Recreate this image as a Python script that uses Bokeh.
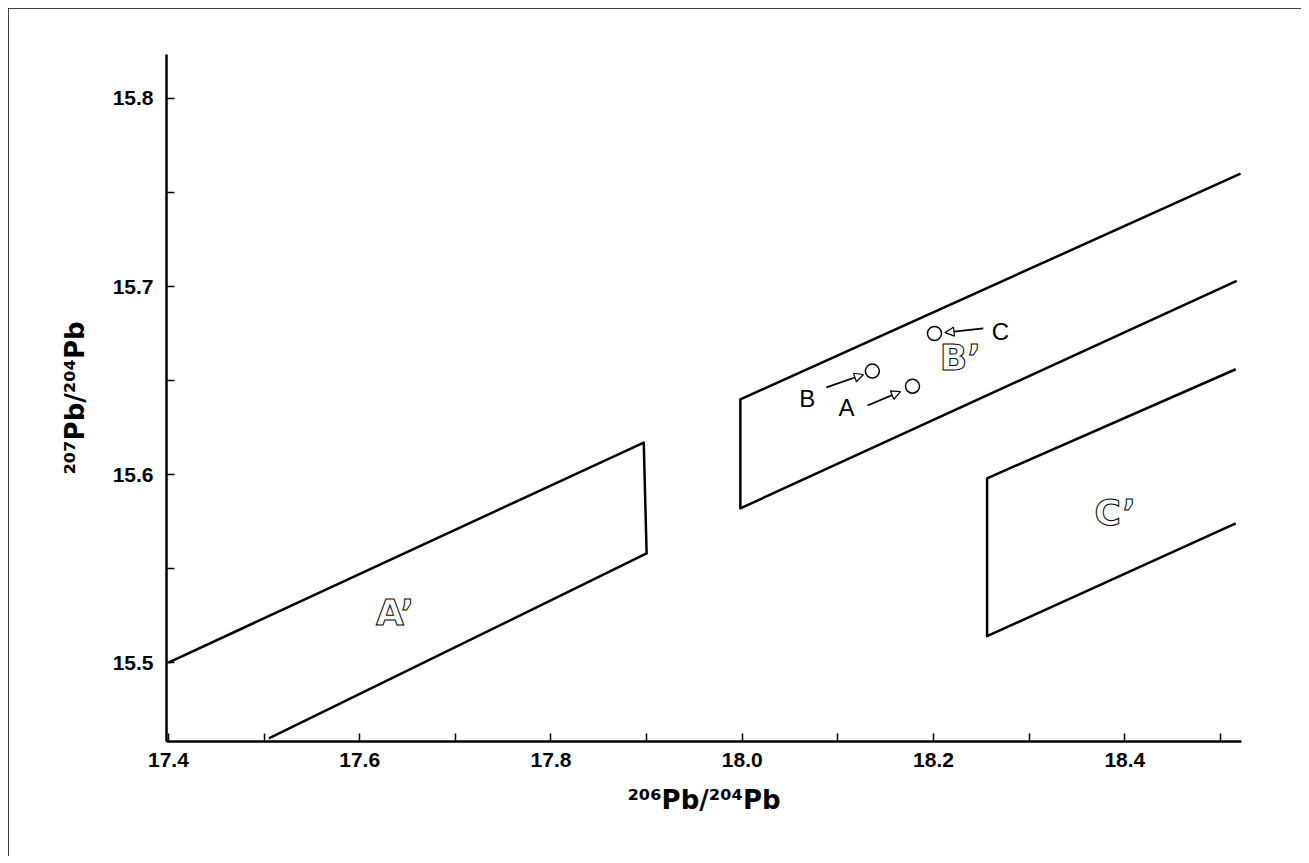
from bokeh.plotting import figure
from bokeh.models import Range1d, FixedTicker, Arrow, NormalHead, PrintfTickFormatter
from bokeh.core.properties import value
from bokeh.embed import file_html
from bokeh.resources import INLINE

# Axis ticks
x_major = [17.4, 17.6, 17.8, 18.0, 18.2, 18.4]
x_minor = [17.5, 17.7, 17.9, 18.1, 18.3, 18.5]
y_major = [15.5, 15.6, 15.7, 15.8]
y_minor = [15.55, 15.65, 15.75]

# Field outlines (polylines)
a_field_x = [17.400, 17.897, 17.900, 17.505]
a_field_y = [15.500, 15.617, 15.558, 15.4597]
b_field_x = [18.521, 17.998, 17.998, 18.517]
b_field_y = [15.760, 15.640, 15.582, 15.703]
c_field_x = [18.516, 18.256, 18.256, 18.516]
c_field_y = [15.656, 15.598, 15.514, 15.574]

# Sample points
pt_x = [18.178, 18.136, 18.201]   # A, B, C
pt_y = [15.647, 15.655, 15.675]

# Arrows (tail -> head)
arr_x0 = [18.131, 18.088, 18.252]
arr_y0 = [15.6367, 15.6463, 15.6777]
arr_x1 = [18.1654, 18.1267, 18.212]
arr_y1 = [15.6441, 15.6532, 15.6755]

# Point labels
lab_text = ["A", "B", "C"]
lab_x = [18.109, 18.068, 18.270]
lab_y = [15.6356, 15.6404, 15.676]

# Field labels
field_text = ["A\u2019", "B\u2019", "C\u2019"]
field_x = [17.637, 18.228, 18.390]
field_y = [15.5266, 15.6622, 15.5798]

p = figure(width=1293, height=848,
           x_range=Range1d(17.398, 18.522), y_range=Range1d(15.458, 15.8234),
           output_backend="svg", toolbar_location=None,
           min_border_left=158, min_border_right=60,
           min_border_top=46, min_border_bottom=115)
p.styles = {"margin": "8px", "outline": "2px solid black", "outline-offset": "-2px"}
p.grid.visible = False
p.outline_line_color = None
p.background_fill_color = "white"
p.border_fill_color = "white"

for ax in (p.xaxis[0], p.yaxis[0]):
    ax.axis_line_width = 2.5
    ax.axis_line_color = "black"
    ax.major_tick_in = 8
    ax.major_tick_out = 0
    ax.minor_tick_in = 8
    ax.minor_tick_out = 0
    ax.major_tick_line_width = 1.5
    ax.minor_tick_line_width = 1.5
    ax.major_tick_line_color = "black"
    ax.minor_tick_line_color = "black"
    ax.major_label_text_font = "Liberation Sans"
    ax.major_label_text_font_style = "bold"
    ax.major_label_text_font_size = "21px"
    ax.major_label_text_color = "black"
    ax.axis_label_text_font = "DejaVu Sans"
    ax.axis_label_text_font_style = "bold"
    ax.axis_label_text_font_size = "26px"
    ax.axis_label_text_color = "black"
    ax.formatter = PrintfTickFormatter(format="%.1f")

p.xaxis.ticker = FixedTicker(ticks=x_major, minor_ticks=x_minor)
p.yaxis.ticker = FixedTicker(ticks=y_major, minor_ticks=y_minor)
p.xaxis.major_label_standoff = 11
p.yaxis.major_label_standoff = 13
p.xaxis.axis_label = "\u00b2\u2070\u2076Pb/\u00b2\u2070\u2074Pb"
p.yaxis.axis_label = "\u00b2\u2070\u2077Pb/\u00b2\u2070\u2074Pb"
p.xaxis.axis_label_standoff = 15
p.yaxis.axis_label_standoff = 20

for fx, fy in ((a_field_x, a_field_y), (b_field_x, b_field_y), (c_field_x, c_field_y)):
    p.line(fx, fy, line_color="black", line_width=2.5, line_join="round")

for i in range(len(arr_x0)):
    p.add_layout(Arrow(x_start=arr_x0[i], y_start=arr_y0[i], x_end=arr_x1[i], y_end=arr_y1[i],
                       line_width=1.8, line_color="black",
                       end=NormalHead(size=9, fill_color="white", line_color="black", line_width=1.2)))

p.scatter(pt_x, pt_y, size=14, fill_color="white", line_color="black", line_width=1.5)

p.text(lab_x, lab_y, text=lab_text, text_align="center", text_baseline="middle",
       text_font=value("Liberation Sans"), text_font_size="24px", text_color="black")

p.text(field_x, field_y, text=field_text, text_align="center", text_baseline="middle",
       text_font=value("DejaVu Sans"), text_font_size="36px", text_font_style="bold",
       text_color="white", text_outline_color="black")

open("out.html", "w").write(file_html(p, INLINE))
